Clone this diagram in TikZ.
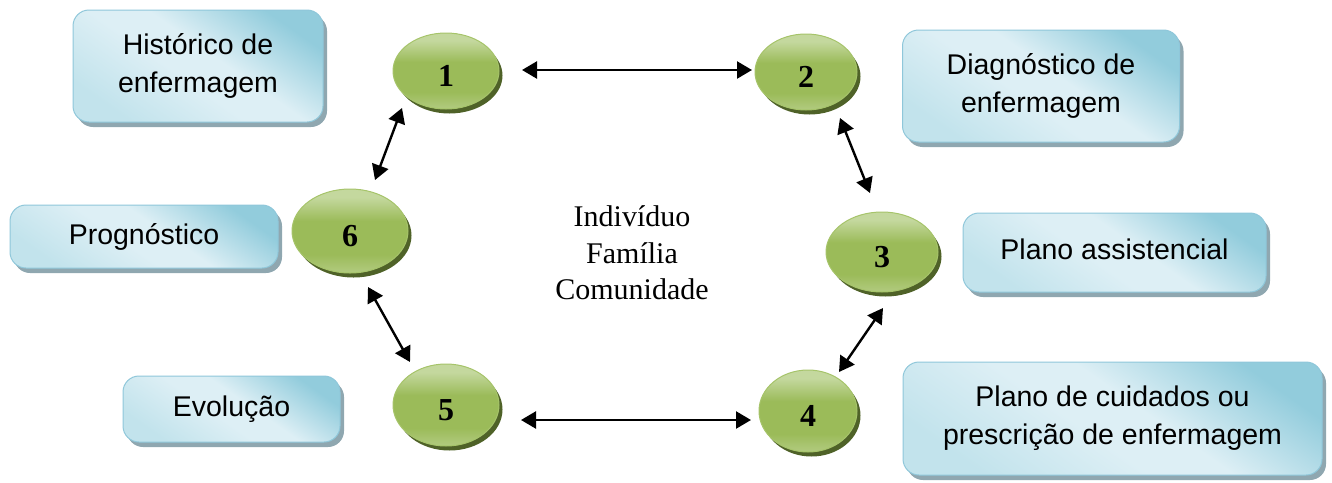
\documentclass[tikz,border=0pt]{standalone}
\usepackage{fontspec}
\setmainfont{Liberation Serif}
\newfontfamily\boxfont{Liberation Sans}
\usetikzlibrary{shapes.geometric,shadows,calc,arrows.meta}
\definecolor{boxdark}{HTML}{92CCDC}
\definecolor{boxlight}{HTML}{DDEFF5}
\definecolor{boxmid}{HTML}{C2E3EC}
\definecolor{boxedge}{HTML}{8FC7DA}
\definecolor{boxshadow}{HTML}{8FA7B0}
\definecolor{gtop}{HTML}{C4D89E}
\definecolor{gmid}{HTML}{9BBB59}
\definecolor{gbot}{HTML}{B2CB80}
\definecolor{gedge}{HTML}{A6C46A}
\definecolor{gshadow}{HTML}{4F6228}
\pgfdeclareverticalshading{ellgreen}{100bp}{color(0bp)=(gbot); color(25bp)=(gbot); color(36bp)=(gmid); color(56bp)=(gmid); color(70bp)=(gtop); color(75bp)=(gtop); color(100bp)=(gtop)}
\pgfdeclareverticalshading{boxblue}{100bp}{color(0bp)=(boxmid); color(25bp)=(boxmid); color(45bp)=(boxlight); color(55bp)=(boxlight); color(75bp)=(boxdark); color(100bp)=(boxdark)}
\tikzset{
  infobox/.style={draw=boxedge, line width=1pt, rounded corners=16pt,
    shading=boxblue, shading angle=-35,
    drop shadow={shadow xshift=4pt, shadow yshift=-5pt, fill=boxshadow, opacity=1},
    align=center, inner sep=0pt, font=\boxfont\fontsize{28.5}{38}\selectfont},
  stage/.style={ellipse, draw=gedge, line width=1pt, inner sep=0pt,
    shading=ellgreen, text height=31pt, text depth=0pt,
    drop shadow={shadow xshift=3.5pt, shadow yshift=-4.5pt, fill=gshadow, opacity=1},
    font=\bfseries\fontsize{32}{32}\selectfont},
  arr/.style={line width=2.4pt, {Triangle[length=15pt,width=17pt]}-{Triangle[length=15pt,width=17pt]}}
}
\begin{document}
\begin{tikzpicture}[x=1pt,y=-1pt]
\useasboundingbox (0,0) rectangle (1332,482);
% boxes
\node[infobox, minimum width=250pt, minimum height=112pt] (hist) at (198,66) {Histórico de\\enfermagem};
\node[infobox, minimum width=277pt, minimum height=112pt] (diag) at (1041,86) {Diagnóstico de\\enfermagem};
\node[infobox, minimum width=268pt, minimum height=63pt] (prog) at (144,236.5) {Prognóstico};
\node[infobox, minimum width=303pt, minimum height=79pt] (plano) at (1114.5,252.5) {\raisebox{6pt}{Plano assistencial}};
\node[infobox, minimum width=217pt, minimum height=66pt] (evol) at (231.5,409) {Evolução};
\node[infobox, minimum width=419pt, minimum height=113pt] (cuid) at (1112.5,418.5) {Plano de cuidados ou\\prescrição de enfermagem};
% stages
\node[stage, minimum width=106pt, minimum height=76pt] (n1) at (446,71) {1};
\node[stage, minimum width=102pt, minimum height=76pt] (n2) at (806,72) {2};
\node[stage, minimum width=112pt, minimum height=80pt] (n3) at (882,252) {3};
\node[stage, minimum width=98pt, minimum height=82pt] (n4) at (808,411) {4};
\node[stage, minimum width=106pt, minimum height=82pt] (n5) at (446,405) {5};
\node[stage, minimum width=116pt, minimum height=84pt] (n6) at (350,231) {6};
% centre text
\node[align=center, font=\fontsize{30}{36.5}\selectfont] (centre) at (632,253) {Indivíduo\\Família\\Comunidade};
% connectors
\draw[arr] ($(n1)+(76,-1)$) -- ($(n2)+(-54,-2)$);
\draw[arr] ($(n2)+(34,46)$) -- ($(n3)+(-12,-59)$);
\draw[arr] ($(n3)+(1,56)$) -- ($(n4)+(31,-39)$);
\draw[arr] ($(n4)+(-57,9)$) -- ($(n5)+(75,15)$);
\draw[arr] ($(n5)+(-36,-43)$) -- ($(n6)+(18,56)$);
\draw[arr] ($(n6)+(25,-51)$) -- ($(n1)+(-44,37)$);
\end{tikzpicture}
\end{document}
